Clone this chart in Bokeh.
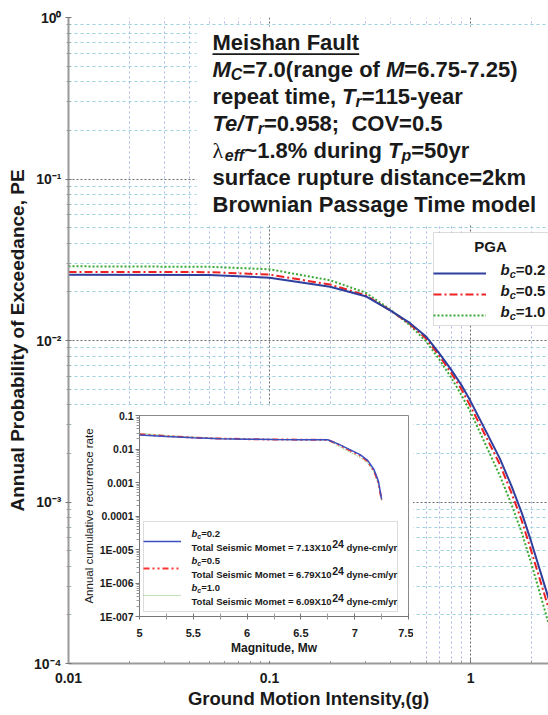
from bokeh.plotting import figure
from bokeh.models import (FixedTicker, Label, Legend, LegendItem, BoxAnnotation,
                          Range1d, CustomJSTickFormatter)
from bokeh.layouts import column
from bokeh.embed import file_html
from bokeh.resources import INLINE

# ------------------------------------------------------------------ data
# main chart: annual probability of exceedance vs PGA (g)
pga_g = [0.01, 0.05, 0.1, 0.2, 0.3, 0.4, 0.5, 0.6, 0.7, 0.8, 0.9, 1.0, 1.2, 1.4, 1.6, 1.8, 2.0, 2.5]
pe_bc02 = [0.0255, 0.0254, 0.0245, 0.0215, 0.0188, 0.0153, 0.0128, 0.0106, 0.0083, 0.0066,
           0.0053, 0.0042, 0.0027, 0.00185, 0.00125, 0.00085, 0.00057, 0.00023]
pe_bc05 = [0.0266, 0.0265, 0.0256, 0.0222, 0.0191, 0.0153, 0.0126, 0.0103, 0.0080, 0.0063,
           0.0050, 0.0039, 0.0025, 0.0017, 0.00113, 0.00076, 0.0005, 0.0002]
pe_bc10 = [0.0288, 0.0286, 0.0276, 0.0236, 0.0198, 0.0155, 0.0124, 0.0099, 0.0076, 0.0059,
           0.0046, 0.0036, 0.0022, 0.00145, 0.00096, 0.00064, 0.00042, 0.00016]
bc_values = ["0.2", "0.5", "1.0"]

main_x_ticks = [0.01, 0.1, 1.0]
main_x_labels = ["0.01", "0.1", "1"]
main_y_ticks = [1e-4, 1e-3, 1e-2, 1e-1, 1.0]
main_y_labels = ["10\u207b\u2074", "10\u207b\u00b3", "10\u207b\u00b2", "10\u207b\u00b9", "10\u2070"]

# inset: annual cumulative recurrence rate vs magnitude
mag_mw = [5.0, 5.25, 5.5, 5.75, 6.0, 6.25, 6.5, 6.75, 6.85, 6.95, 7.05, 7.12, 7.18, 7.22, 7.25]
rate_bc02 = [0.026, 0.0235, 0.0215, 0.0203, 0.0196, 0.0192, 0.019, 0.0188, 0.0140, 0.0097,
             0.0068, 0.0046, 0.0024, 0.0011, 0.00032]
rate_bc05 = [0.0275, 0.0242, 0.0219, 0.0205, 0.0197, 0.0192, 0.019, 0.0187, 0.0135, 0.0093,
             0.0064, 0.0043, 0.0022, 0.0010, 0.00030]
rate_bc10 = [0.0296, 0.0255, 0.0226, 0.0208, 0.0198, 0.0193, 0.019, 0.0186, 0.0122, 0.0082,
             0.0056, 0.0038, 0.0020, 0.0009, 0.00028]
moment_values = ["7.13", "6.79", "6.09"]

inset_x_ticks = [5.0, 5.5, 6.0, 6.5, 7.0, 7.5]
inset_x_minor = [5.25, 5.75, 6.25, 6.75, 7.25]
inset_x_labels = ["5", "5.5", "6", "6.5", "7", "7.5"]
inset_y_ticks = [0.1, 0.01, 0.001, 0.0001, 1e-5, 1e-6, 1e-7]
inset_y_labels = ["0.1", "0.01", "0.001", "0.0001", "1E-005", "1E-006", "1E-007"]

X_MAX = 2.44
FONT = "Liberation Sans"
TXT = "#1a1a1a"
BORDER = "#8c8c8c"
NBSP = "\u00a0"

# Arial / Liberation Sans Bold advance widths (1/1000 em) for run layout
AW = {' ': 278, NBSP: 278, '%': 889, '(': 333, ')': 333, ',': 278, '-': 333, '.': 278,
      '/': 278, ';': 333, '=': 584, '~': 584, '\u03bb': 560,
      'A': 722, 'B': 722, 'C': 722, 'D': 722, 'E': 667, 'F': 611, 'G': 778, 'H': 722,
      'I': 278, 'M': 833, 'O': 778, 'P': 667, 'S': 667, 'T': 611, 'V': 667, 'X': 667,
      'a': 556, 'b': 611, 'c': 556, 'd': 611, 'e': 556, 'f': 333, 'g': 611, 'h': 611,
      'i': 278, 'k': 556, 'l': 278, 'm': 889, 'n': 611, 'o': 611, 'p': 611, 'r': 389,
      's': 556, 't': 333, 'u': 611, 'v': 556, 'w': 778, 'y': 556}


def tw(s, size):
    return sum(AW.get(ch, 556) for ch in s) * size / 1000.0


def runs_at(fig, ax, ay, x0, cy, runs):
    """Place consecutive text runs; offsets in px from the anchor, cy = line centre (downwards)."""
    x = x0
    for text, size, style, dy, font in runs:
        fig.add_layout(Label(x=ax, y=ay, x_offset=x, y_offset=-(cy + dy), text=text,
                             text_font=font, text_font_size=f"{size}px",
                             text_font_style=style, text_color=TXT,
                             text_baseline="middle", text_align="left", level="overlay"))
        x += tw(text, size)
    return x


def screen_box(fig, left, right, bottom, top, fill, line=None):
    fig.add_layout(BoxAnnotation(left=left, right=right, bottom=bottom, top=top,
                                 left_units="screen", right_units="screen",
                                 bottom_units="screen", top_units="screen",
                                 fill_color=fill, fill_alpha=1, line_color=line,
                                 line_width=1))


def fixed_formatter(ticks, labels):
    return CustomJSTickFormatter(args=dict(t=ticks, l=labels), code="""
        for (let i = 0; i < t.length; i++) {
            if (Math.abs(t[i] - tick) <= 1e-9 * Math.abs(t[i])) { return l[i]; }
        }
        return "";
    """)


# ------------------------------------------------------------------ main figure
p = figure(frame_width=480, frame_height=646, x_axis_type="log", y_axis_type="log",
           x_range=Range1d(0.01, X_MAX), y_range=Range1d(1e-4, 1.0),
           output_backend="svg", toolbar_location=None,
           min_border_left=68, min_border_right=0, min_border_top=17, min_border_bottom=52)
p.outline_line_color = None
p.background_fill_color = "white"
p.border_fill_color = "white"

p.xaxis.ticker = FixedTicker(ticks=main_x_ticks,
                             minor_ticks=[m * d for d in (0.01, 0.1, 1.0) for m in range(2, 10)])
p.yaxis.ticker = FixedTicker(ticks=main_y_ticks,
                             minor_ticks=[m * d for d in (1e-4, 1e-3, 1e-2, 1e-1) for m in range(2, 10)])
p.xaxis.formatter = fixed_formatter(main_x_ticks, main_x_labels)
p.yaxis.formatter = fixed_formatter(main_y_ticks, main_y_labels)

for ax in (p.xaxis, p.yaxis):
    ax.axis_line_color = "#9a9a9a"
    ax.axis_line_width = 2
    ax.major_tick_line_color = "#777777"
    ax.minor_tick_line_color = "#999999"
    ax.major_label_text_font = FONT
    ax.major_label_text_font_style = "bold"
    ax.major_label_text_font_size = "14px"
    ax.major_label_text_color = TXT
    ax.axis_label_text_font = FONT
    ax.axis_label_text_font_style = "bold"
    ax.axis_label_text_color = TXT
p.xaxis.major_tick_in = 4
p.xaxis.major_tick_out = 0
p.xaxis.minor_tick_in = 3
p.xaxis.minor_tick_out = 0
p.yaxis.major_tick_in = 3
p.yaxis.major_tick_out = 3
p.yaxis.minor_tick_in = 2
p.yaxis.minor_tick_out = 2
p.xaxis.major_label_standoff = 9
p.yaxis.major_label_standoff = 4
p.xaxis.axis_label = "Ground Motion Intensity,(g)"
p.xaxis.axis_label_text_font_size = "18.5px"
p.xaxis.axis_label_standoff = 2
p.yaxis.axis_label = "Annual Probability of Exceedance, PE"
p.yaxis.axis_label_text_font_size = "19px"
p.yaxis.axis_label_standoff = 3

p.xgrid.grid_line_color = "#6a6a6a"
p.xgrid.grid_line_dash = "2 2"
p.xgrid.minor_grid_line_color = "#aab2e6"
p.xgrid.minor_grid_line_dash = "2 3"
p.ygrid.grid_line_color = "#6a6a6a"
p.ygrid.grid_line_dash = "2 2"
p.ygrid.minor_grid_line_color = "#9bd3de"
p.ygrid.minor_grid_line_dash = "3 3"

r3 = p.line(pga_g, pe_bc10, line_color="#3aaa35", line_width=2, line_dash="2 2")
r2 = p.line(pga_g, pe_bc05, line_color="#ee2222", line_width=2, line_dash="8 3 2 3")
r1 = p.line(pga_g, pe_bc02, line_color="#2f3f9e", line_width=2)

# white panel behind the description text, the title underline and the legend panel
screen_box(p, 128, 700, 439, 637, "white")
screen_box(p, 144, 144 + tw("Meishan Fault", 22), 608.6, 610.3, TXT)
screen_box(p, 365, 700, 338, 431, "white", BORDER)

legend = Legend(items=[LegendItem(label="bc=" + v, renderers=[r])
                       for v, r in zip(bc_values, (r1, r2, r3))],
                location=(365, 338), title="PGA",
                title_text_font=FONT, title_text_font_size="15px", title_text_font_style="bold",
                title_text_alpha=0, title_standoff=5,
                padding=4, spacing=1, margin=0, glyph_width=53, glyph_height=16,
                label_height=20, label_width=45, label_standoff=10,
                label_text_font=FONT, label_text_font_size="15px", label_text_alpha=0,
                border_line_color=None, background_fill_alpha=0)
p.add_layout(legend)

# legend texts (b italic, c subscript)
p.add_layout(Label(x=X_MAX, y=1.0, x_offset=-58, y_offset=-229, text="PGA",
                   text_font=FONT, text_font_size="15px", text_font_style="bold",
                   text_color=TXT, text_align="center", text_baseline="middle",
                   level="overlay"))
for i, v in enumerate(bc_values):
    runs_at(p, X_MAX, 1.0, -48, 252 + 21 * i,
            [("b", 15, "bold italic", 0, FONT), ("c", 11, "bold italic", 4, FONT),
             ("=" + v, 15, "bold", 0, FONT)])

B, BI, S = "bold", "bold italic", 5
text_lines = [
    [("Meishan Fault", 22, B, 0, FONT)],
    [("M", 22, BI, 0, FONT), ("C", 16, BI, S, FONT), ("=7.0(range of ", 22, B, 0, FONT),
     ("M", 22, BI, 0, FONT), ("=6.75-7.25)", 22, B, 0, FONT)],
    [("repeat time, ", 22, B, 0, FONT), ("T", 22, BI, 0, FONT), ("r", 16, BI, S, FONT),
     ("=115-year", 22, B, 0, FONT)],
    [("Te/T", 22, BI, 0, FONT), ("r", 16, BI, S, FONT), ("=0.958;" + NBSP + " COV=0.5", 22, B, 0, FONT)],
    [("\u03bb", 22, "normal", 0, "Liberation Serif"), ("eff", 16, BI, S, FONT),
     ("~1.8% during ", 22, B, 0, FONT), ("T", 22, BI, 0, FONT), ("p", 16, BI, S, FONT),
     ("=50yr", 22, B, 0, FONT)],
    [("surface rupture distance=2km", 22, B, 0, FONT)],
    [("Brownian Passage Time model", 22, B, 0, FONT)],
]
for i, runs in enumerate(text_lines):
    runs_at(p, 0.01, 1.0, 144, 25 + 27 * i, runs)

# ------------------------------------------------------------------ inset figure
ins = figure(frame_width=269, frame_height=201, y_axis_type="log",
             x_range=Range1d(5.0, 7.5), y_range=Range1d(1e-7, 0.1),
             output_backend="svg", toolbar_location=None,
             min_border_left=58, min_border_right=13, min_border_top=10, min_border_bottom=45)
ins.margin = (-310, 0, 0, 71)
ins.background_fill_color = "white"
ins.border_fill_color = "white"
ins.outline_line_color = "#8a8a8a"
ins.grid.visible = False

ins.xaxis.ticker = FixedTicker(ticks=inset_x_ticks, minor_ticks=inset_x_minor)
ins.yaxis.ticker = FixedTicker(ticks=inset_y_ticks,
                               minor_ticks=[m * d for d in (1e-7, 1e-6, 1e-5, 1e-4, 1e-3, 1e-2)
                                            for m in range(2, 10)])
ins.xaxis.formatter = fixed_formatter(inset_x_ticks, inset_x_labels)
ins.yaxis.formatter = fixed_formatter(inset_y_ticks, inset_y_labels)
for ax in (ins.xaxis, ins.yaxis):
    ax.axis_line_color = "#777777"
    ax.major_tick_line_color = "#777777"
    ax.minor_tick_line_color = "#999999"
    ax.major_label_text_font = FONT
    ax.major_label_text_font_style = "bold"
    ax.major_label_text_color = TXT
    ax.axis_label_text_font = FONT
    ax.axis_label_text_color = TXT
ins.xaxis.major_label_text_font_size = "11px"
ins.yaxis.major_label_text_font_size = "10.5px"
ins.xaxis.major_tick_in = 3
ins.xaxis.major_tick_out = 3
ins.xaxis.minor_tick_in = 3
ins.xaxis.minor_tick_out = 3
ins.xaxis.major_label_standoff = 9
ins.xaxis.axis_label = "Magnitude, Mw"
ins.xaxis.axis_label_text_font_style = "bold"
ins.xaxis.axis_label_text_font_size = "12px"
ins.xaxis.axis_label_standoff = 1
ins.yaxis.major_tick_in = 0
ins.yaxis.major_tick_out = 4
ins.yaxis.minor_tick_in = 0
ins.yaxis.minor_tick_out = 3
ins.yaxis.major_label_standoff = 2
ins.yaxis.axis_label = "Annual cumulative recurrence rate"
ins.yaxis.axis_label_text_font_style = "normal"
ins.yaxis.axis_label_text_font_size = "11.5px"
ins.yaxis.axis_label_standoff = 2

q3 = ins.line(mag_mw, rate_bc10, line_color="#7cc86a", line_width=1, line_dash="1 1")
q2 = ins.line(mag_mw, rate_bc05, line_color="#ff3333", line_width=2, line_dash="6 3 2 3 2 3")
q1 = ins.line(mag_mw, rate_bc02, line_color="#3a4fc0", line_width=1.5)

screen_box(ins, 4, 258, 5, 95, "white", BORDER)
ins_legend = Legend(items=[LegendItem(label="bc=" + v, renderers=[r])
                           for v, r in zip(bc_values, (q1, q2, q3))],
                    location=(4, 9), padding=6, spacing=3, margin=0,
                    glyph_width=38, glyph_height=20, label_height=24, label_width=198,
                    label_standoff=6, label_text_font=FONT, label_text_font_size="9px",
                    label_text_alpha=0, border_line_color=None, background_fill_alpha=0)
ins.add_layout(ins_legend)

for i, (v, mo) in enumerate(zip(bc_values, moment_values)):
    runs_at(ins, 5.0, 1e-7, 52, 533 + 27 * i - 616,
            [("b", 9.5, BI, 0, FONT), ("c", 7, BI, 2.5, FONT), ("=" + v, 9.5, B, 0, FONT)])
    runs_at(ins, 5.0, 1e-7, 52, 547 + 27 * i - 616,
            [("Total Seismic Momet = " + mo + "X10", 9.5, B, 0, FONT), ("24", 10.5, B, -4, FONT),
             (NBSP + "dyne-cm/yr", 9.5, B, 0, FONT)])

layout = column(p, ins)
open("out.html", "w").write(file_html(layout, INLINE))
